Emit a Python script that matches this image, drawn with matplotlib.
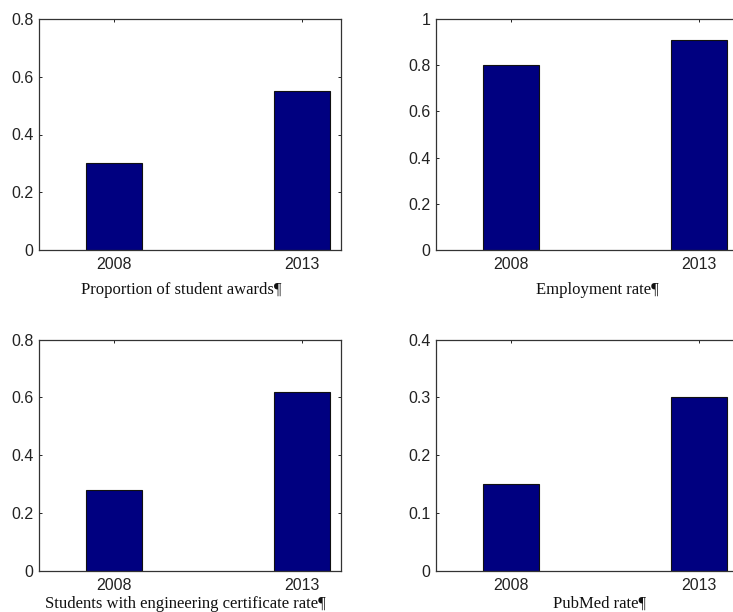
import matplotlib
matplotlib.use("Agg")
import matplotlib.pyplot as plt
from matplotlib.ticker import FuncFormatter

years = ["2008", "2013"]
awards = [0.30, 0.55]
employment = [0.80, 0.91]
certificate = [0.28, 0.62]
pubmed = [0.15, 0.30]

captions = ["Proportion of student awards\u00b6",
            "Employment rate\u00b6",
            "Students with engineering certificate rate\u00b6",
            "PubMed rate\u00b6"]
series = [awards, employment, certificate, pubmed]
ylims = [0.8, 1.0, 0.8, 0.4]
ysteps = [0.2, 0.2, 0.2, 0.1]

W, H = 733, 612
fig = plt.figure(figsize=(W / 100, H / 100), dpi=100)

# axes boxes in pixels: left, top, width, height
boxes = [(39, 19, 302, 231), (436, 19, 302, 231),
         (39, 339.5, 302, 231.5), (436, 339.5, 302, 231.5)]
cap_pos = [(181, 290), (597, 290), (185, 604), (600, 604)]

bar_color = "#000080"
fmt = FuncFormatter(lambda v, p: "%g" % round(v, 2))

for i in range(4):
    l, t, w, h = boxes[i]
    ax = fig.add_axes([l / W, (H - t - h) / H, w / W, h / H])
    x = list(range(len(years)))
    ax.bar(x, series[i], width=0.3, color=bar_color, edgecolor="#111111",
           linewidth=0.8, zorder=2)
    ax.set_xlim(-0.398, 1.208)
    ax.set_ylim(0, ylims[i])
    n = int(round(ylims[i] / ysteps[i]))
    ax.set_yticks([k * ysteps[i] for k in range(n + 1)])
    ax.yaxis.set_major_formatter(fmt)
    ax.set_xticks(x)
    ax.set_xticklabels(years)
    ax.tick_params(direction="in", length=2.5, width=0.7, top=True, right=True,
                   labelsize=11.5, colors="#222222", labelcolor="#222222")
    ax.tick_params(axis="x", pad=5)
    ax.tick_params(axis="y", pad=4)
    for lab in ax.get_xticklabels() + ax.get_yticklabels():
        lab.set_fontfamily("Liberation Sans")
    for s in ax.spines.values():
        s.set_color("#333333")
        s.set_linewidth(0.9)
    cx, cy = cap_pos[i]
    fig.text(cx / W, 1 - cy / H, captions[i], ha="center", va="center",
             fontsize=12, family="Liberation Serif", color="#111111")

fig.savefig("out.png", dpi=100)
